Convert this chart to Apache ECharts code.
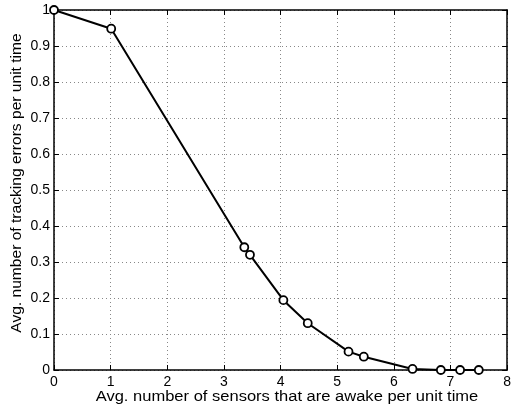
<!DOCTYPE html>
<html><head><meta charset="utf-8">
<script src="https://cdn.jsdelivr.net/npm/echarts@6/dist/echarts.min.js"></script>
<style>html,body{margin:0;padding:0;background:#fff}#c{width:514px;height:406px}</style>
</head><body><div id="c"></div>
<script>
const xValues = [0, 1.01, 3.36, 3.46, 4.05, 4.48, 5.20, 5.47, 6.33, 6.83, 7.17, 7.50];
const yValues = [1.0, 0.948, 0.341, 0.320, 0.194, 0.130, 0.051, 0.037, 0.003, 0.0, 0.0, 0.0];
const xTitle = 'Avg. number of sensors that are awake per unit time';
const yTitle = 'Avg. number of tracking errors per unit time';

const font = 'Liberation Sans, Arial, Helvetica, sans-serif';
const chart = echarts.init(document.getElementById('c'), null, {renderer: 'canvas'});
const axisBase = {
  axisLine: {show: true, onZero: false, lineStyle: {color: '#000', width: 1.5}},
  axisTick: {show: true, inside: true, length: 5, lineStyle: {color: '#000', width: 1}},
  axisLabel: {color: '#000', fontFamily: font, fontSize: 14},
  splitLine: {show: false}
};
chart.setOption({
  animation: false,
  grid: {left: 54, right: 4, top: 10, bottom: 36, containLabel: false},
  xAxis: [
    Object.assign({}, axisBase, {type: 'value', min: 0, max: 8, interval: 1, position: 'bottom',
      axisLabel: {color: '#000', fontFamily: font, fontSize: 14, margin: 5},
      splitLine: {show: true, lineStyle: {color: '#888', type: [1, 3], width: 1}}}),
    Object.assign({}, axisBase, {type: 'value', min: 0, max: 8, interval: 1, position: 'top',
      axisLabel: {show: false}})
  ],
  yAxis: [
    Object.assign({}, axisBase, {type: 'value', min: 0, max: 1, interval: 0.1, position: 'left',
      axisLabel: {color: '#000', fontFamily: font, fontSize: 14, margin: 4,
        formatter: v => (Math.round(v*10)/10).toString()},
      splitLine: {show: true, lineStyle: {color: '#888', type: [1, 3], width: 1}}}),
    Object.assign({}, axisBase, {type: 'value', min: 0, max: 1, interval: 0.1, position: 'right',
      axisLabel: {show: false}})
  ],
  graphic: [
    {type: 'text', x: 287, y: 397, scaleX: 1.18,
      style: {text: xTitle, fill: '#000', fontFamily: font, fontSize: 14,
        align: 'center', verticalAlign: 'middle', textAlign: 'center', textVerticalAlign: 'middle'}},
    {type: 'text', x: 17, y: 183, rotation: Math.PI / 2, scaleX: 1.075,
      style: {text: yTitle, fill: '#000', fontFamily: font, fontSize: 14.5,
        align: 'center', verticalAlign: 'middle', textAlign: 'center', textVerticalAlign: 'middle'}}
  ],
  series: [{
    type: 'line',
    xAxisIndex: 0, yAxisIndex: 0,
    data: xValues.map((x, i) => [x, yValues[i]]),
    symbol: 'circle', symbolSize: 8, showAllSymbol: true,
    lineStyle: {color: '#000', width: 2},
    itemStyle: {color: '#fff', borderColor: '#000', borderWidth: 1.8},
    clip: false
  }]
});
</script></body></html>
